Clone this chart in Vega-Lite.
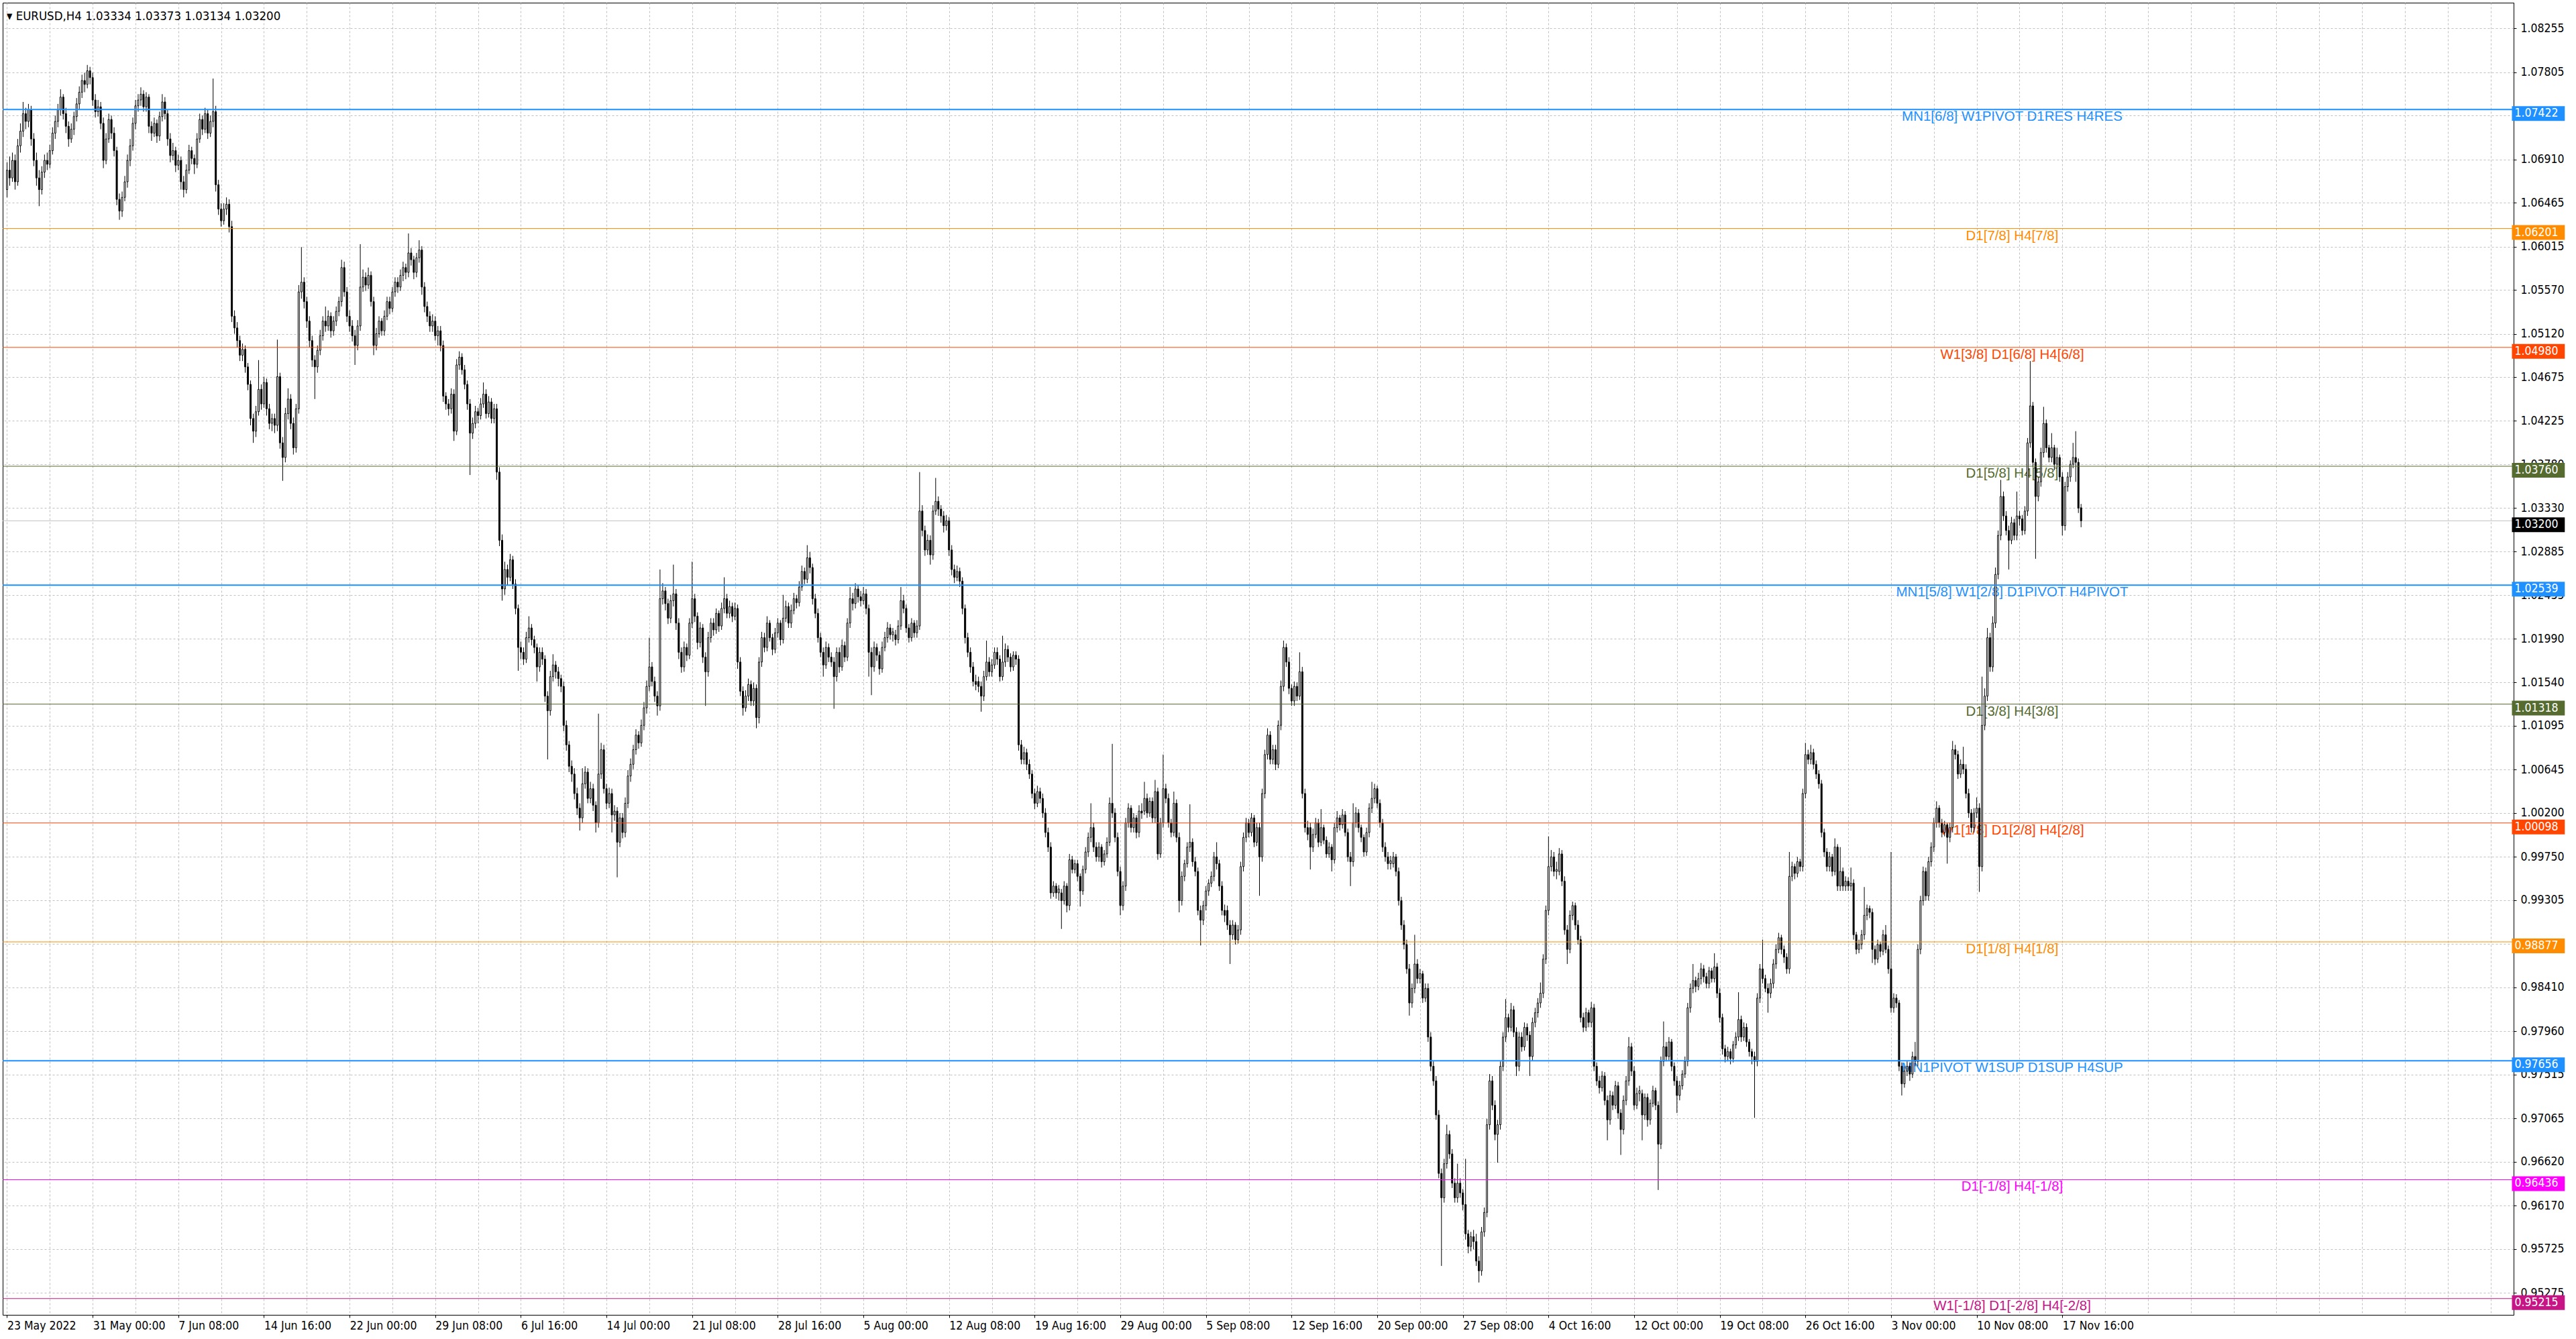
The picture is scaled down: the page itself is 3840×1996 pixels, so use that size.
{
"$schema": "https://vega.github.io/schema/vega-lite/v6.json",
"width": 3743, "height": 1956,
"autosize": {"type": "none"},
"padding": {"left": 4, "top": 4, "right": 93, "bottom": 36},
"background": "white",
"title": {"text": "▾  EURUSD,H4  1.03334 1.03373 1.03134 1.03200", "anchor": "start", "frame": "group", "orient": "top", "offset": -24, "dx": 6, "dy": 20, "baseline": "alphabetic", "font": "DejaVu Sans Condensed, DejaVu Sans", "fontSize": 18.5, "fontWeight": "normal", "color": "black"},
"config": {"view": {"stroke": "black", "strokeWidth": 1}},
"datasets": {
"levels": [
{"p":1.07422,"name":"MN1[6/8] W1PIVOT D1RES H4RES","lab":"1.07422","grp":"pivot"},
{"p":1.06201,"name":"D1[7/8] H4[7/8]","lab":"1.06201","grp":"o71"},
{"p":1.04980,"name":"W1[3/8] D1[6/8] H4[6/8]","lab":"1.04980","grp":"o62"},
{"p":1.03760,"name":"D1[5/8] H4[5/8]","lab":"1.03760","grp":"o53"},
{"p":1.03200,"name":"","lab":"1.03200","grp":"bid"},
{"p":1.02539,"name":"MN1[5/8] W1[2/8] D1PIVOT H4PIVOT","lab":"1.02539","grp":"pivot"},
{"p":1.01318,"name":"D1[3/8] H4[3/8]","lab":"1.01318","grp":"o53"},
{"p":1.00098,"name":"W1[1/8] D1[2/8] H4[2/8]","lab":"1.00098","grp":"o62"},
{"p":0.98877,"name":"D1[1/8] H4[1/8]","lab":"0.98877","grp":"o71"},
{"p":0.97656,"name":"MN1PIVOT W1SUP D1SUP H4SUP","lab":"0.97656","grp":"pivot"},
{"p":0.96436,"name":"D1[-1/8] H4[-1/8]","lab":"0.96436","grp":"m1"},
{"p":0.95215,"name":"W1[-1/8] D1[-2/8] H4[-2/8]","lab":"0.95215","grp":"m2"}
],
"bars": [
{"i":0,"o":1.0660,"h":1.0688,"l":1.0652,"c":1.0680},
{"i":1,"o":1.0680,"h":1.0694,"l":1.0664,"c":1.0672},
{"i":2,"o":1.0672,"h":1.0698,"l":1.0668,"c":1.0690},
{"i":3,"o":1.0690,"h":1.0696,"l":1.0660,"c":1.0668},
{"i":4,"o":1.0668,"h":1.0712,"l":1.0664,"c":1.0705},
{"i":5,"o":1.0705,"h":1.0728,"l":1.0698,"c":1.0720},
{"i":6,"o":1.0720,"h":1.0750,"l":1.0714,"c":1.0738},
{"i":7,"o":1.0738,"h":1.0744,"l":1.0722,"c":1.0730},
{"i":8,"o":1.0730,"h":1.0748,"l":1.0724,"c":1.0742},
{"i":9,"o":1.0742,"h":1.0746,"l":1.0705,"c":1.0712},
{"i":10,"o":1.0712,"h":1.0718,"l":1.0684,"c":1.0690},
{"i":11,"o":1.0690,"h":1.0698,"l":1.0664,"c":1.0672},
{"i":12,"o":1.0672,"h":1.0680,"l":1.0643,"c":1.0660},
{"i":13,"o":1.0660,"h":1.0684,"l":1.0655,"c":1.0678},
{"i":14,"o":1.0678,"h":1.0696,"l":1.0672,"c":1.0690},
{"i":15,"o":1.0690,"h":1.0698,"l":1.0680,"c":1.0686},
{"i":16,"o":1.0686,"h":1.0706,"l":1.0682,"c":1.0700},
{"i":17,"o":1.0700,"h":1.0724,"l":1.0696,"c":1.0718},
{"i":18,"o":1.0718,"h":1.0736,"l":1.0712,"c":1.0730},
{"i":19,"o":1.0730,"h":1.0748,"l":1.0724,"c":1.0742},
{"i":20,"o":1.0742,"h":1.0763,"l":1.0736,"c":1.0755},
{"i":21,"o":1.0755,"h":1.0758,"l":1.0732,"c":1.0738},
{"i":22,"o":1.0738,"h":1.0744,"l":1.0718,"c":1.0725},
{"i":23,"o":1.0725,"h":1.0730,"l":1.0704,"c":1.0712},
{"i":24,"o":1.0712,"h":1.0728,"l":1.0708,"c":1.0722},
{"i":25,"o":1.0722,"h":1.0740,"l":1.0716,"c":1.0735},
{"i":26,"o":1.0735,"h":1.0754,"l":1.0730,"c":1.0748},
{"i":27,"o":1.0748,"h":1.0766,"l":1.0742,"c":1.0760},
{"i":28,"o":1.0760,"h":1.0778,"l":1.0754,"c":1.0772},
{"i":29,"o":1.0772,"h":1.0780,"l":1.0760,"c":1.0768},
{"i":30,"o":1.0768,"h":1.0788,"l":1.0764,"c":1.0782},
{"i":31,"o":1.0782,"h":1.0786,"l":1.0768,"c":1.0775},
{"i":32,"o":1.0775,"h":1.0780,"l":1.0746,"c":1.0752},
{"i":33,"o":1.0752,"h":1.0758,"l":1.0734,"c":1.0740},
{"i":34,"o":1.0740,"h":1.0752,"l":1.0735,"c":1.0745},
{"i":35,"o":1.0745,"h":1.0750,"l":1.0722,"c":1.0728},
{"i":36,"o":1.0728,"h":1.0734,"l":1.0682,"c":1.0690},
{"i":37,"o":1.0690,"h":1.0718,"l":1.0686,"c":1.0712},
{"i":38,"o":1.0712,"h":1.0738,"l":1.0708,"c":1.0732},
{"i":39,"o":1.0732,"h":1.0736,"l":1.0712,"c":1.0718},
{"i":40,"o":1.0718,"h":1.0724,"l":1.0694,"c":1.0700},
{"i":41,"o":1.0700,"h":1.0704,"l":1.0644,"c":1.0650},
{"i":42,"o":1.0650,"h":1.0656,"l":1.0629,"c":1.0638},
{"i":43,"o":1.0638,"h":1.0658,"l":1.0632,"c":1.0652},
{"i":44,"o":1.0652,"h":1.0674,"l":1.0648,"c":1.0668},
{"i":45,"o":1.0668,"h":1.0696,"l":1.0662,"c":1.0690},
{"i":46,"o":1.0690,"h":1.0712,"l":1.0684,"c":1.0705},
{"i":47,"o":1.0705,"h":1.0734,"l":1.0700,"c":1.0728},
{"i":48,"o":1.0728,"h":1.0752,"l":1.0722,"c":1.0746},
{"i":49,"o":1.0746,"h":1.0758,"l":1.0740,"c":1.0752},
{"i":50,"o":1.0752,"h":1.0765,"l":1.0746,"c":1.0758},
{"i":51,"o":1.0758,"h":1.0762,"l":1.0740,"c":1.0745},
{"i":52,"o":1.0745,"h":1.0760,"l":1.0740,"c":1.0755},
{"i":53,"o":1.0755,"h":1.0758,"l":1.0718,"c":1.0725},
{"i":54,"o":1.0725,"h":1.0730,"l":1.0710,"c":1.0718},
{"i":55,"o":1.0718,"h":1.0734,"l":1.0714,"c":1.0728},
{"i":56,"o":1.0728,"h":1.0732,"l":1.0708,"c":1.0715},
{"i":57,"o":1.0715,"h":1.0740,"l":1.0710,"c":1.0735},
{"i":58,"o":1.0735,"h":1.0758,"l":1.0730,"c":1.0750},
{"i":59,"o":1.0750,"h":1.0755,"l":1.0732,"c":1.0738},
{"i":60,"o":1.0738,"h":1.0742,"l":1.0705,"c":1.0712},
{"i":61,"o":1.0712,"h":1.0718,"l":1.0688,"c":1.0695},
{"i":62,"o":1.0695,"h":1.0708,"l":1.0690,"c":1.0700},
{"i":63,"o":1.0700,"h":1.0704,"l":1.0678,"c":1.0685},
{"i":64,"o":1.0685,"h":1.0696,"l":1.0680,"c":1.0690},
{"i":65,"o":1.0690,"h":1.0694,"l":1.0660,"c":1.0668},
{"i":66,"o":1.0668,"h":1.0674,"l":1.0652,"c":1.0660},
{"i":67,"o":1.0660,"h":1.0686,"l":1.0656,"c":1.0680},
{"i":68,"o":1.0680,"h":1.0706,"l":1.0676,"c":1.0700},
{"i":69,"o":1.0700,"h":1.0704,"l":1.0686,"c":1.0692},
{"i":70,"o":1.0692,"h":1.0696,"l":1.0676,"c":1.0686},
{"i":71,"o":1.0686,"h":1.0718,"l":1.0682,"c":1.0712},
{"i":72,"o":1.0712,"h":1.0738,"l":1.0708,"c":1.0732},
{"i":73,"o":1.0732,"h":1.0736,"l":1.0716,"c":1.0722},
{"i":74,"o":1.0722,"h":1.0744,"l":1.0718,"c":1.0738},
{"i":75,"o":1.0738,"h":1.0742,"l":1.0712,"c":1.0718},
{"i":76,"o":1.0718,"h":1.0736,"l":1.0714,"c":1.0730},
{"i":77,"o":1.0730,"h":1.0774,"l":1.0724,"c":1.0740},
{"i":78,"o":1.0740,"h":1.0746,"l":1.0658,"c":1.0665},
{"i":79,"o":1.0665,"h":1.0670,"l":1.0634,"c":1.0640},
{"i":80,"o":1.0640,"h":1.0646,"l":1.0622,"c":1.0628},
{"i":81,"o":1.0628,"h":1.0646,"l":1.0624,"c":1.0640},
{"i":82,"o":1.0640,"h":1.0652,"l":1.0634,"c":1.0645},
{"i":83,"o":1.0645,"h":1.0650,"l":1.0616,"c":1.0622},
{"i":84,"o":1.0622,"h":1.0628,"l":1.0524,"c":1.0530},
{"i":85,"o":1.0530,"h":1.0536,"l":1.0512,"c":1.0518},
{"i":86,"o":1.0518,"h":1.0524,"l":1.0498,"c":1.0505},
{"i":87,"o":1.0505,"h":1.0510,"l":1.0484,"c":1.0490},
{"i":88,"o":1.0490,"h":1.0502,"l":1.0484,"c":1.0496},
{"i":89,"o":1.0496,"h":1.0500,"l":1.0472,"c":1.0478},
{"i":90,"o":1.0478,"h":1.0482,"l":1.0454,"c":1.0460},
{"i":91,"o":1.0460,"h":1.0464,"l":1.0418,"c":1.0425},
{"i":92,"o":1.0425,"h":1.0430,"l":1.0400,"c":1.0412},
{"i":93,"o":1.0412,"h":1.0438,"l":1.0406,"c":1.0432},
{"i":94,"o":1.0432,"h":1.0485,"l":1.0428,"c":1.0455},
{"i":95,"o":1.0455,"h":1.0460,"l":1.0434,"c":1.0440},
{"i":96,"o":1.0440,"h":1.0468,"l":1.0436,"c":1.0462},
{"i":97,"o":1.0462,"h":1.0466,"l":1.0428,"c":1.0435},
{"i":98,"o":1.0435,"h":1.0440,"l":1.0414,"c":1.0420},
{"i":99,"o":1.0420,"h":1.0430,"l":1.0412,"c":1.0425},
{"i":100,"o":1.0425,"h":1.0430,"l":1.0410,"c":1.0418},
{"i":101,"o":1.0418,"h":1.0506,"l":1.0412,"c":1.0468},
{"i":102,"o":1.0468,"h":1.0472,"l":1.0394,"c":1.0400},
{"i":103,"o":1.0400,"h":1.0406,"l":1.0361,"c":1.0385},
{"i":104,"o":1.0385,"h":1.0436,"l":1.0380,"c":1.0430},
{"i":105,"o":1.0430,"h":1.0456,"l":1.0424,"c":1.0445},
{"i":106,"o":1.0445,"h":1.0450,"l":1.0414,"c":1.0420},
{"i":107,"o":1.0420,"h":1.0426,"l":1.0388,"c":1.0395},
{"i":108,"o":1.0395,"h":1.0440,"l":1.0390,"c":1.0435},
{"i":109,"o":1.0435,"h":1.0562,"l":1.0430,"c":1.0555},
{"i":110,"o":1.0555,"h":1.0601,"l":1.0548,"c":1.0565},
{"i":111,"o":1.0565,"h":1.0570,"l":1.0538,"c":1.0545},
{"i":112,"o":1.0545,"h":1.0550,"l":1.0518,"c":1.0525},
{"i":113,"o":1.0525,"h":1.0530,"l":1.0498,"c":1.0505},
{"i":114,"o":1.0505,"h":1.0510,"l":1.0478,"c":1.0485},
{"i":115,"o":1.0485,"h":1.0490,"l":1.0445,"c":1.0478},
{"i":116,"o":1.0478,"h":1.0500,"l":1.0472,"c":1.0495},
{"i":117,"o":1.0495,"h":1.0516,"l":1.0490,"c":1.0510},
{"i":118,"o":1.0510,"h":1.0530,"l":1.0505,"c":1.0525},
{"i":119,"o":1.0525,"h":1.0540,"l":1.0514,"c":1.0520},
{"i":120,"o":1.0520,"h":1.0536,"l":1.0515,"c":1.0530},
{"i":121,"o":1.0530,"h":1.0534,"l":1.0508,"c":1.0515},
{"i":122,"o":1.0515,"h":1.0530,"l":1.0510,"c":1.0525},
{"i":123,"o":1.0525,"h":1.0540,"l":1.0520,"c":1.0535},
{"i":124,"o":1.0535,"h":1.0550,"l":1.0530,"c":1.0545},
{"i":125,"o":1.0545,"h":1.0588,"l":1.0540,"c":1.0580},
{"i":126,"o":1.0580,"h":1.0586,"l":1.0550,"c":1.0555},
{"i":127,"o":1.0555,"h":1.0560,"l":1.0524,"c":1.0530},
{"i":128,"o":1.0530,"h":1.0536,"l":1.0514,"c":1.0520},
{"i":129,"o":1.0520,"h":1.0526,"l":1.0504,"c":1.0510},
{"i":130,"o":1.0510,"h":1.0516,"l":1.0480,"c":1.0500},
{"i":131,"o":1.0500,"h":1.0526,"l":1.0495,"c":1.0520},
{"i":132,"o":1.0520,"h":1.0604,"l":1.0515,"c":1.0560},
{"i":133,"o":1.0560,"h":1.0578,"l":1.0555,"c":1.0570},
{"i":134,"o":1.0570,"h":1.0575,"l":1.0556,"c":1.0562},
{"i":135,"o":1.0562,"h":1.0580,"l":1.0558,"c":1.0572},
{"i":136,"o":1.0572,"h":1.0576,"l":1.0540,"c":1.0545},
{"i":137,"o":1.0545,"h":1.0550,"l":1.0490,"c":1.0500},
{"i":138,"o":1.0500,"h":1.0518,"l":1.0495,"c":1.0512},
{"i":139,"o":1.0512,"h":1.0530,"l":1.0508,"c":1.0525},
{"i":140,"o":1.0525,"h":1.0528,"l":1.0510,"c":1.0515},
{"i":141,"o":1.0515,"h":1.0536,"l":1.0510,"c":1.0530},
{"i":142,"o":1.0530,"h":1.0550,"l":1.0526,"c":1.0545},
{"i":143,"o":1.0545,"h":1.0550,"l":1.0532,"c":1.0538},
{"i":144,"o":1.0538,"h":1.0560,"l":1.0534,"c":1.0555},
{"i":145,"o":1.0555,"h":1.0570,"l":1.0550,"c":1.0565},
{"i":146,"o":1.0565,"h":1.0570,"l":1.0554,"c":1.0560},
{"i":147,"o":1.0560,"h":1.0578,"l":1.0556,"c":1.0572},
{"i":148,"o":1.0572,"h":1.0586,"l":1.0566,"c":1.0580},
{"i":149,"o":1.0580,"h":1.0584,"l":1.0568,"c":1.0575},
{"i":150,"o":1.0575,"h":1.0615,"l":1.0570,"c":1.0595},
{"i":151,"o":1.0595,"h":1.0600,"l":1.0582,"c":1.0588},
{"i":152,"o":1.0588,"h":1.0592,"l":1.0568,"c":1.0575},
{"i":153,"o":1.0575,"h":1.0595,"l":1.0570,"c":1.0590},
{"i":154,"o":1.0590,"h":1.0608,"l":1.0585,"c":1.0598},
{"i":155,"o":1.0598,"h":1.0602,"l":1.0552,"c":1.0560},
{"i":156,"o":1.0560,"h":1.0565,"l":1.0534,"c":1.0540},
{"i":157,"o":1.0540,"h":1.0545,"l":1.0524,"c":1.0530},
{"i":158,"o":1.0530,"h":1.0535,"l":1.0514,"c":1.0520},
{"i":159,"o":1.0520,"h":1.0532,"l":1.0514,"c":1.0525},
{"i":160,"o":1.0525,"h":1.0530,"l":1.0505,"c":1.0510},
{"i":161,"o":1.0510,"h":1.0520,"l":1.0500,"c":1.0515},
{"i":162,"o":1.0515,"h":1.0520,"l":1.0494,"c":1.0500},
{"i":163,"o":1.0500,"h":1.0505,"l":1.0442,"c":1.0448},
{"i":164,"o":1.0448,"h":1.0452,"l":1.0434,"c":1.0440},
{"i":165,"o":1.0440,"h":1.0445,"l":1.0428,"c":1.0435},
{"i":166,"o":1.0435,"h":1.0456,"l":1.0430,"c":1.0450},
{"i":167,"o":1.0450,"h":1.0455,"l":1.0402,"c":1.0412},
{"i":168,"o":1.0412,"h":1.0486,"l":1.0408,"c":1.0480},
{"i":169,"o":1.0480,"h":1.0494,"l":1.0475,"c":1.0488},
{"i":170,"o":1.0488,"h":1.0492,"l":1.0470,"c":1.0475},
{"i":171,"o":1.0475,"h":1.0480,"l":1.0455,"c":1.0460},
{"i":172,"o":1.0460,"h":1.0464,"l":1.0434,"c":1.0440},
{"i":173,"o":1.0440,"h":1.0445,"l":1.0367,"c":1.0410},
{"i":174,"o":1.0410,"h":1.0426,"l":1.0404,"c":1.0420},
{"i":175,"o":1.0420,"h":1.0438,"l":1.0415,"c":1.0432},
{"i":176,"o":1.0432,"h":1.0436,"l":1.0420,"c":1.0428},
{"i":177,"o":1.0428,"h":1.0446,"l":1.0424,"c":1.0440},
{"i":178,"o":1.0440,"h":1.0462,"l":1.0436,"c":1.0450},
{"i":179,"o":1.0450,"h":1.0455,"l":1.0425,"c":1.0430},
{"i":180,"o":1.0430,"h":1.0448,"l":1.0426,"c":1.0442},
{"i":181,"o":1.0442,"h":1.0446,"l":1.0420,"c":1.0425},
{"i":182,"o":1.0425,"h":1.0440,"l":1.0420,"c":1.0435},
{"i":183,"o":1.0435,"h":1.0440,"l":1.0362,"c":1.0370},
{"i":184,"o":1.0370,"h":1.0375,"l":1.0294,"c":1.0300},
{"i":185,"o":1.0300,"h":1.0306,"l":1.0238,"c":1.0250},
{"i":186,"o":1.0250,"h":1.0278,"l":1.0244,"c":1.0270},
{"i":187,"o":1.0270,"h":1.0275,"l":1.0254,"c":1.0262},
{"i":188,"o":1.0262,"h":1.0286,"l":1.0258,"c":1.0280},
{"i":189,"o":1.0280,"h":1.0284,"l":1.0250,"c":1.0255},
{"i":190,"o":1.0255,"h":1.0260,"l":1.0224,"c":1.0230},
{"i":191,"o":1.0230,"h":1.0234,"l":1.0166,"c":1.0190},
{"i":192,"o":1.0190,"h":1.0196,"l":1.0178,"c":1.0185},
{"i":193,"o":1.0185,"h":1.0190,"l":1.0172,"c":1.0178},
{"i":194,"o":1.0178,"h":1.0206,"l":1.0174,"c":1.0200},
{"i":195,"o":1.0200,"h":1.0222,"l":1.0195,"c":1.0210},
{"i":196,"o":1.0210,"h":1.0214,"l":1.0192,"c":1.0198},
{"i":197,"o":1.0198,"h":1.0202,"l":1.0184,"c":1.0190},
{"i":198,"o":1.0190,"h":1.0194,"l":1.0155,"c":1.0170},
{"i":199,"o":1.0170,"h":1.0190,"l":1.0165,"c":1.0185},
{"i":200,"o":1.0185,"h":1.0190,"l":1.0172,"c":1.0178},
{"i":201,"o":1.0178,"h":1.0182,"l":1.0134,"c":1.0140},
{"i":202,"o":1.0140,"h":1.0145,"l":1.0075,"c":1.0125},
{"i":203,"o":1.0125,"h":1.0166,"l":1.0120,"c":1.0160},
{"i":204,"o":1.0160,"h":1.0183,"l":1.0155,"c":1.0172},
{"i":205,"o":1.0172,"h":1.0176,"l":1.0158,"c":1.0165},
{"i":206,"o":1.0165,"h":1.0170,"l":1.0150,"c":1.0158},
{"i":207,"o":1.0158,"h":1.0162,"l":1.0144,"c":1.0150},
{"i":208,"o":1.0150,"h":1.0155,"l":1.0104,"c":1.0110},
{"i":209,"o":1.0110,"h":1.0115,"l":1.0084,"c":1.0090},
{"i":210,"o":1.0090,"h":1.0094,"l":1.0062,"c":1.0068},
{"i":211,"o":1.0068,"h":1.0074,"l":1.0052,"c":1.0060},
{"i":212,"o":1.0060,"h":1.0066,"l":1.0034,"c":1.0040},
{"i":213,"o":1.0040,"h":1.0046,"l":1.0018,"c":1.0025},
{"i":214,"o":1.0025,"h":1.0030,"l":1.0002,"c":1.0015},
{"i":215,"o":1.0015,"h":1.0066,"l":1.0010,"c":1.0050},
{"i":216,"o":1.0050,"h":1.0068,"l":1.0045,"c":1.0062},
{"i":217,"o":1.0062,"h":1.0066,"l":1.0030,"c":1.0035},
{"i":218,"o":1.0035,"h":1.0052,"l":1.0030,"c":1.0045},
{"i":219,"o":1.0045,"h":1.0050,"l":1.0022,"c":1.0028},
{"i":220,"o":1.0028,"h":1.0032,"l":1.0000,"c":1.0010},
{"i":221,"o":1.0010,"h":1.0122,"l":1.0005,"c":1.0060},
{"i":222,"o":1.0060,"h":1.0092,"l":1.0055,"c":1.0085},
{"i":223,"o":1.0085,"h":1.0090,"l":1.0040,"c":1.0045},
{"i":224,"o":1.0045,"h":1.0050,"l":1.0024,"c":1.0030},
{"i":225,"o":1.0030,"h":1.0046,"l":1.0025,"c":1.0040},
{"i":226,"o":1.0040,"h":1.0045,"l":1.0000,"c":1.0018},
{"i":227,"o":1.0018,"h":1.0028,"l":1.0012,"c":1.0022},
{"i":228,"o":1.0022,"h":1.0026,"l":0.9954,"c":0.9990},
{"i":229,"o":0.9990,"h":1.0020,"l":0.9985,"c":1.0015},
{"i":230,"o":1.0015,"h":1.0020,"l":0.9994,"c":1.0000},
{"i":231,"o":1.0000,"h":1.0036,"l":0.9995,"c":1.0030},
{"i":232,"o":1.0030,"h":1.0064,"l":1.0025,"c":1.0058},
{"i":233,"o":1.0058,"h":1.0076,"l":1.0052,"c":1.0070},
{"i":234,"o":1.0070,"h":1.0090,"l":1.0065,"c":1.0085},
{"i":235,"o":1.0085,"h":1.0106,"l":1.0080,"c":1.0100},
{"i":236,"o":1.0100,"h":1.0104,"l":1.0086,"c":1.0092},
{"i":237,"o":1.0092,"h":1.0116,"l":1.0088,"c":1.0110},
{"i":238,"o":1.0110,"h":1.0134,"l":1.0105,"c":1.0128},
{"i":239,"o":1.0128,"h":1.0156,"l":1.0122,"c":1.0150},
{"i":240,"o":1.0150,"h":1.0200,"l":1.0145,"c":1.0170},
{"i":241,"o":1.0170,"h":1.0175,"l":1.0150,"c":1.0155},
{"i":242,"o":1.0155,"h":1.0160,"l":1.0134,"c":1.0140},
{"i":243,"o":1.0140,"h":1.0145,"l":1.0120,"c":1.0130},
{"i":244,"o":1.0130,"h":1.0270,"l":1.0125,"c":1.0240},
{"i":245,"o":1.0240,"h":1.0256,"l":1.0234,"c":1.0248},
{"i":246,"o":1.0248,"h":1.0252,"l":1.0228,"c":1.0235},
{"i":247,"o":1.0235,"h":1.0240,"l":1.0214,"c":1.0220},
{"i":248,"o":1.0220,"h":1.0244,"l":1.0215,"c":1.0238},
{"i":249,"o":1.0238,"h":1.0275,"l":1.0232,"c":1.0245},
{"i":250,"o":1.0245,"h":1.0250,"l":1.0208,"c":1.0215},
{"i":251,"o":1.0215,"h":1.0220,"l":1.0178,"c":1.0185},
{"i":252,"o":1.0185,"h":1.0190,"l":1.0164,"c":1.0170},
{"i":253,"o":1.0170,"h":1.0196,"l":1.0165,"c":1.0190},
{"i":254,"o":1.0190,"h":1.0194,"l":1.0176,"c":1.0182},
{"i":255,"o":1.0182,"h":1.0220,"l":1.0178,"c":1.0215},
{"i":256,"o":1.0215,"h":1.0278,"l":1.0210,"c":1.0240},
{"i":257,"o":1.0240,"h":1.0245,"l":1.0216,"c":1.0222},
{"i":258,"o":1.0222,"h":1.0226,"l":1.0188,"c":1.0195},
{"i":259,"o":1.0195,"h":1.0216,"l":1.0190,"c":1.0210},
{"i":260,"o":1.0210,"h":1.0214,"l":1.0174,"c":1.0180},
{"i":261,"o":1.0180,"h":1.0185,"l":1.0130,"c":1.0165},
{"i":262,"o":1.0165,"h":1.0206,"l":1.0160,"c":1.0200},
{"i":263,"o":1.0200,"h":1.0220,"l":1.0195,"c":1.0215},
{"i":264,"o":1.0215,"h":1.0220,"l":1.0202,"c":1.0208},
{"i":265,"o":1.0208,"h":1.0230,"l":1.0204,"c":1.0225},
{"i":266,"o":1.0225,"h":1.0228,"l":1.0206,"c":1.0212},
{"i":267,"o":1.0212,"h":1.0236,"l":1.0208,"c":1.0230},
{"i":268,"o":1.0230,"h":1.0262,"l":1.0225,"c":1.0240},
{"i":269,"o":1.0240,"h":1.0245,"l":1.0220,"c":1.0225},
{"i":270,"o":1.0225,"h":1.0238,"l":1.0220,"c":1.0232},
{"i":271,"o":1.0232,"h":1.0236,"l":1.0216,"c":1.0222},
{"i":272,"o":1.0222,"h":1.0236,"l":1.0218,"c":1.0230},
{"i":273,"o":1.0230,"h":1.0234,"l":1.0168,"c":1.0175},
{"i":274,"o":1.0175,"h":1.0180,"l":1.0140,"c":1.0145},
{"i":275,"o":1.0145,"h":1.0150,"l":1.0120,"c":1.0128},
{"i":276,"o":1.0128,"h":1.0146,"l":1.0124,"c":1.0140},
{"i":277,"o":1.0140,"h":1.0158,"l":1.0135,"c":1.0152},
{"i":278,"o":1.0152,"h":1.0156,"l":1.0130,"c":1.0135},
{"i":279,"o":1.0135,"h":1.0154,"l":1.0130,"c":1.0148},
{"i":280,"o":1.0148,"h":1.0152,"l":1.0107,"c":1.0118},
{"i":281,"o":1.0118,"h":1.0180,"l":1.0112,"c":1.0175},
{"i":282,"o":1.0175,"h":1.0206,"l":1.0170,"c":1.0200},
{"i":283,"o":1.0200,"h":1.0205,"l":1.0185,"c":1.0190},
{"i":284,"o":1.0190,"h":1.0222,"l":1.0186,"c":1.0215},
{"i":285,"o":1.0215,"h":1.0218,"l":1.0196,"c":1.0200},
{"i":286,"o":1.0200,"h":1.0204,"l":1.0182,"c":1.0188},
{"i":287,"o":1.0188,"h":1.0210,"l":1.0184,"c":1.0205},
{"i":288,"o":1.0205,"h":1.0220,"l":1.0200,"c":1.0215},
{"i":289,"o":1.0215,"h":1.0218,"l":1.0192,"c":1.0198},
{"i":290,"o":1.0198,"h":1.0244,"l":1.0194,"c":1.0220},
{"i":291,"o":1.0220,"h":1.0238,"l":1.0216,"c":1.0232},
{"i":292,"o":1.0232,"h":1.0236,"l":1.0210,"c":1.0215},
{"i":293,"o":1.0215,"h":1.0234,"l":1.0210,"c":1.0228},
{"i":294,"o":1.0228,"h":1.0246,"l":1.0224,"c":1.0240},
{"i":295,"o":1.0240,"h":1.0244,"l":1.0230,"c":1.0236},
{"i":296,"o":1.0236,"h":1.0258,"l":1.0232,"c":1.0252},
{"i":297,"o":1.0252,"h":1.0274,"l":1.0248,"c":1.0268},
{"i":298,"o":1.0268,"h":1.0272,"l":1.0255,"c":1.0260},
{"i":299,"o":1.0260,"h":1.0295,"l":1.0256,"c":1.0282},
{"i":300,"o":1.0282,"h":1.0288,"l":1.0266,"c":1.0272},
{"i":301,"o":1.0272,"h":1.0276,"l":1.0234,"c":1.0240},
{"i":302,"o":1.0240,"h":1.0245,"l":1.0220,"c":1.0225},
{"i":303,"o":1.0225,"h":1.0230,"l":1.0195,"c":1.0200},
{"i":304,"o":1.0200,"h":1.0205,"l":1.0180,"c":1.0185},
{"i":305,"o":1.0185,"h":1.0190,"l":1.0160,"c":1.0172},
{"i":306,"o":1.0172,"h":1.0196,"l":1.0168,"c":1.0190},
{"i":307,"o":1.0190,"h":1.0194,"l":1.0175,"c":1.0180},
{"i":308,"o":1.0180,"h":1.0185,"l":1.0170,"c":1.0175},
{"i":309,"o":1.0175,"h":1.0180,"l":1.0127,"c":1.0160},
{"i":310,"o":1.0160,"h":1.0190,"l":1.0155,"c":1.0185},
{"i":311,"o":1.0185,"h":1.0190,"l":1.0164,"c":1.0170},
{"i":312,"o":1.0170,"h":1.0198,"l":1.0166,"c":1.0192},
{"i":313,"o":1.0192,"h":1.0196,"l":1.0175,"c":1.0180},
{"i":314,"o":1.0180,"h":1.0220,"l":1.0176,"c":1.0215},
{"i":315,"o":1.0215,"h":1.0252,"l":1.0210,"c":1.0240},
{"i":316,"o":1.0240,"h":1.0246,"l":1.0228,"c":1.0235},
{"i":317,"o":1.0235,"h":1.0256,"l":1.0230,"c":1.0250},
{"i":318,"o":1.0250,"h":1.0254,"l":1.0236,"c":1.0242},
{"i":319,"o":1.0242,"h":1.0248,"l":1.0232,"c":1.0238},
{"i":320,"o":1.0238,"h":1.0252,"l":1.0234,"c":1.0245},
{"i":321,"o":1.0245,"h":1.0250,"l":1.0224,"c":1.0230},
{"i":322,"o":1.0230,"h":1.0234,"l":1.0160,"c":1.0185},
{"i":323,"o":1.0185,"h":1.0190,"l":1.0141,"c":1.0170},
{"i":324,"o":1.0170,"h":1.0196,"l":1.0165,"c":1.0190},
{"i":325,"o":1.0190,"h":1.0194,"l":1.0176,"c":1.0182},
{"i":326,"o":1.0182,"h":1.0186,"l":1.0162,"c":1.0168},
{"i":327,"o":1.0168,"h":1.0196,"l":1.0164,"c":1.0190},
{"i":328,"o":1.0190,"h":1.0206,"l":1.0186,"c":1.0200},
{"i":329,"o":1.0200,"h":1.0216,"l":1.0195,"c":1.0210},
{"i":330,"o":1.0210,"h":1.0214,"l":1.0198,"c":1.0203},
{"i":331,"o":1.0203,"h":1.0210,"l":1.0196,"c":1.0206},
{"i":332,"o":1.0203,"h":1.0208,"l":1.0192,"c":1.0198},
{"i":333,"o":1.0198,"h":1.0218,"l":1.0194,"c":1.0212},
{"i":334,"o":1.0212,"h":1.0252,"l":1.0208,"c":1.0238},
{"i":335,"o":1.0238,"h":1.0244,"l":1.0225,"c":1.0230},
{"i":336,"o":1.0230,"h":1.0234,"l":1.0205,"c":1.0210},
{"i":337,"o":1.0210,"h":1.0214,"l":1.0195,"c":1.0200},
{"i":338,"o":1.0200,"h":1.0220,"l":1.0196,"c":1.0215},
{"i":339,"o":1.0215,"h":1.0218,"l":1.0200,"c":1.0205},
{"i":340,"o":1.0205,"h":1.0218,"l":1.0200,"c":1.0212},
{"i":341,"o":1.0212,"h":1.0370,"l":1.0208,"c":1.0330},
{"i":342,"o":1.0330,"h":1.0336,"l":1.0304,"c":1.0310},
{"i":343,"o":1.0310,"h":1.0315,"l":1.0284,"c":1.0290},
{"i":344,"o":1.0290,"h":1.0306,"l":1.0285,"c":1.0300},
{"i":345,"o":1.0300,"h":1.0305,"l":1.0275,"c":1.0285},
{"i":346,"o":1.0285,"h":1.0336,"l":1.0280,"c":1.0330},
{"i":347,"o":1.0330,"h":1.0364,"l":1.0326,"c":1.0340},
{"i":348,"o":1.0340,"h":1.0345,"l":1.0325,"c":1.0332},
{"i":349,"o":1.0332,"h":1.0336,"l":1.0318,"c":1.0325},
{"i":350,"o":1.0325,"h":1.0330,"l":1.0308,"c":1.0315},
{"i":351,"o":1.0315,"h":1.0326,"l":1.0310,"c":1.0320},
{"i":352,"o":1.0320,"h":1.0324,"l":1.0284,"c":1.0290},
{"i":353,"o":1.0290,"h":1.0295,"l":1.0264,"c":1.0270},
{"i":354,"o":1.0270,"h":1.0275,"l":1.0256,"c":1.0262},
{"i":355,"o":1.0262,"h":1.0274,"l":1.0258,"c":1.0268},
{"i":356,"o":1.0268,"h":1.0272,"l":1.0252,"c":1.0258},
{"i":357,"o":1.0258,"h":1.0262,"l":1.0224,"c":1.0230},
{"i":358,"o":1.0230,"h":1.0234,"l":1.0194,"c":1.0200},
{"i":359,"o":1.0200,"h":1.0205,"l":1.0180,"c":1.0185},
{"i":360,"o":1.0185,"h":1.0190,"l":1.0164,"c":1.0170},
{"i":361,"o":1.0170,"h":1.0175,"l":1.0150,"c":1.0155},
{"i":362,"o":1.0155,"h":1.0162,"l":1.0146,"c":1.0152},
{"i":363,"o":1.0155,"h":1.0160,"l":1.0144,"c":1.0150},
{"i":364,"o":1.0150,"h":1.0155,"l":1.0124,"c":1.0140},
{"i":365,"o":1.0140,"h":1.0166,"l":1.0135,"c":1.0160},
{"i":366,"o":1.0160,"h":1.0197,"l":1.0156,"c":1.0175},
{"i":367,"o":1.0175,"h":1.0180,"l":1.0160,"c":1.0165},
{"i":368,"o":1.0165,"h":1.0178,"l":1.0160,"c":1.0172},
{"i":369,"o":1.0172,"h":1.0190,"l":1.0168,"c":1.0185},
{"i":370,"o":1.0185,"h":1.0190,"l":1.0172,"c":1.0178},
{"i":371,"o":1.0178,"h":1.0182,"l":1.0155,"c":1.0160},
{"i":372,"o":1.0160,"h":1.0202,"l":1.0156,"c":1.0175},
{"i":373,"o":1.0175,"h":1.0194,"l":1.0170,"c":1.0188},
{"i":374,"o":1.0188,"h":1.0192,"l":1.0175,"c":1.0180},
{"i":375,"o":1.0180,"h":1.0184,"l":1.0165,"c":1.0170},
{"i":376,"o":1.0170,"h":1.0186,"l":1.0166,"c":1.0182},
{"i":377,"o":1.0182,"h":1.0186,"l":1.0172,"c":1.0178},
{"i":378,"o":1.0178,"h":1.0182,"l":1.0084,"c":1.0090},
{"i":379,"o":1.0090,"h":1.0095,"l":1.0070,"c":1.0075},
{"i":380,"o":1.0075,"h":1.0088,"l":1.0070,"c":1.0082},
{"i":381,"o":1.0082,"h":1.0086,"l":1.0064,"c":1.0070},
{"i":382,"o":1.0070,"h":1.0075,"l":1.0055,"c":1.0060},
{"i":383,"o":1.0060,"h":1.0064,"l":1.0035,"c":1.0040},
{"i":384,"o":1.0040,"h":1.0045,"l":1.0024,"c":1.0030},
{"i":385,"o":1.0030,"h":1.0048,"l":1.0026,"c":1.0042},
{"i":386,"o":1.0042,"h":1.0046,"l":1.0030,"c":1.0035},
{"i":387,"o":1.0035,"h":1.0040,"l":1.0015,"c":1.0020},
{"i":388,"o":1.0020,"h":1.0025,"l":0.9995,"c":1.0000},
{"i":389,"o":1.0000,"h":1.0005,"l":0.9980,"c":0.9985},
{"i":390,"o":0.9985,"h":0.9990,"l":0.9932,"c":0.9938},
{"i":391,"o":0.9938,"h":0.9950,"l":0.9934,"c":0.9945},
{"i":392,"o":0.9945,"h":0.9948,"l":0.9932,"c":0.9938},
{"i":393,"o":0.9938,"h":0.9946,"l":0.9930,"c":0.9942},
{"i":394,"o":0.9938,"h":0.9942,"l":0.9901,"c":0.9930},
{"i":395,"o":0.9930,"h":0.9950,"l":0.9926,"c":0.9945},
{"i":396,"o":0.9945,"h":0.9948,"l":0.9918,"c":0.9925},
{"i":397,"o":0.9925,"h":0.9978,"l":0.9920,"c":0.9972},
{"i":398,"o":0.9972,"h":0.9976,"l":0.9958,"c":0.9962},
{"i":399,"o":0.9962,"h":0.9972,"l":0.9958,"c":0.9968},
{"i":400,"o":0.9968,"h":0.9972,"l":0.9950,"c":0.9955},
{"i":401,"o":0.9955,"h":0.9958,"l":0.9924,"c":0.9940},
{"i":402,"o":0.9940,"h":0.9966,"l":0.9936,"c":0.9962},
{"i":403,"o":0.9962,"h":0.9985,"l":0.9958,"c":0.9980},
{"i":404,"o":0.9980,"h":1.0000,"l":0.9975,"c":0.9995},
{"i":405,"o":0.9995,"h":1.0030,"l":0.9990,"c":1.0005},
{"i":406,"o":1.0005,"h":1.0010,"l":0.9980,"c":0.9985},
{"i":407,"o":0.9985,"h":0.9990,"l":0.9970,"c":0.9975},
{"i":408,"o":0.9975,"h":0.9990,"l":0.9970,"c":0.9985},
{"i":409,"o":0.9985,"h":0.9988,"l":0.9964,"c":0.9970},
{"i":410,"o":0.9970,"h":0.9982,"l":0.9966,"c":0.9978},
{"i":411,"o":0.9978,"h":0.9995,"l":0.9974,"c":0.9990},
{"i":412,"o":0.9990,"h":1.0036,"l":0.9986,"c":1.0030},
{"i":413,"o":1.0030,"h":1.0091,"l":1.0015,"c":1.0020},
{"i":414,"o":1.0020,"h":1.0025,"l":0.9990,"c":0.9995},
{"i":415,"o":0.9995,"h":1.0000,"l":0.9955,"c":0.9960},
{"i":416,"o":0.9960,"h":0.9965,"l":0.9915,"c":0.9925},
{"i":417,"o":0.9925,"h":0.9950,"l":0.9920,"c":0.9945},
{"i":418,"o":0.9945,"h":1.0015,"l":0.9940,"c":1.0010},
{"i":419,"o":1.0010,"h":1.0030,"l":1.0005,"c":1.0025},
{"i":420,"o":1.0025,"h":1.0028,"l":1.0000,"c":1.0005},
{"i":421,"o":1.0005,"h":1.0020,"l":1.0000,"c":1.0015},
{"i":422,"o":1.0015,"h":1.0018,"l":0.9994,"c":1.0000},
{"i":423,"o":1.0000,"h":1.0028,"l":0.9995,"c":1.0022},
{"i":424,"o":1.0022,"h":1.0030,"l":1.0014,"c":1.0020},
{"i":425,"o":1.0022,"h":1.0052,"l":1.0018,"c":1.0035},
{"i":426,"o":1.0035,"h":1.0040,"l":1.0015,"c":1.0020},
{"i":427,"o":1.0020,"h":1.0036,"l":1.0016,"c":1.0032},
{"i":428,"o":1.0032,"h":1.0036,"l":1.0010,"c":1.0015},
{"i":429,"o":1.0015,"h":1.0054,"l":1.0010,"c":1.0042},
{"i":430,"o":1.0042,"h":1.0046,"l":0.9972,"c":0.9978},
{"i":431,"o":0.9978,"h":1.0015,"l":0.9974,"c":1.0010},
{"i":432,"o":1.0010,"h":1.0080,"l":1.0005,"c":1.0045},
{"i":433,"o":1.0045,"h":1.0050,"l":1.0030,"c":1.0035},
{"i":434,"o":1.0035,"h":1.0040,"l":1.0005,"c":1.0010},
{"i":435,"o":1.0010,"h":1.0014,"l":0.9995,"c":1.0000},
{"i":436,"o":1.0000,"h":1.0042,"l":0.9996,"c":1.0030},
{"i":437,"o":1.0030,"h":1.0034,"l":0.9990,"c":0.9995},
{"i":438,"o":0.9995,"h":1.0000,"l":0.9918,"c":0.9930},
{"i":439,"o":0.9930,"h":0.9960,"l":0.9925,"c":0.9955},
{"i":440,"o":0.9955,"h":0.9972,"l":0.9950,"c":0.9968},
{"i":441,"o":0.9968,"h":0.9990,"l":0.9964,"c":0.9985},
{"i":442,"o":0.9985,"h":1.0029,"l":0.9980,"c":0.9990},
{"i":443,"o":0.9990,"h":0.9994,"l":0.9965,"c":0.9970},
{"i":444,"o":0.9970,"h":0.9975,"l":0.9955,"c":0.9960},
{"i":445,"o":0.9960,"h":0.9964,"l":0.9915,"c":0.9920},
{"i":446,"o":0.9920,"h":0.9925,"l":0.9884,"c":0.9910},
{"i":447,"o":0.9910,"h":0.9930,"l":0.9905,"c":0.9925},
{"i":448,"o":0.9925,"h":0.9945,"l":0.9920,"c":0.9940},
{"i":449,"o":0.9940,"h":0.9952,"l":0.9935,"c":0.9948},
{"i":450,"o":0.9948,"h":0.9960,"l":0.9944,"c":0.9955},
{"i":451,"o":0.9955,"h":0.9980,"l":0.9950,"c":0.9975},
{"i":452,"o":0.9975,"h":0.9990,"l":0.9962,"c":0.9968},
{"i":453,"o":0.9968,"h":0.9972,"l":0.9940,"c":0.9945},
{"i":454,"o":0.9945,"h":0.9950,"l":0.9915,"c":0.9920},
{"i":455,"o":0.9920,"h":0.9926,"l":0.9908,"c":0.9915},
{"i":456,"o":0.9920,"h":0.9925,"l":0.9900,"c":0.9905},
{"i":457,"o":0.9905,"h":0.9910,"l":0.9865,"c":0.9895},
{"i":458,"o":0.9895,"h":0.9910,"l":0.9890,"c":0.9905},
{"i":459,"o":0.9905,"h":0.9908,"l":0.9885,"c":0.9890},
{"i":460,"o":0.9890,"h":0.9905,"l":0.9886,"c":0.9900},
{"i":461,"o":0.9900,"h":0.9970,"l":0.9895,"c":0.9965},
{"i":462,"o":0.9965,"h":1.0000,"l":0.9960,"c":0.9995},
{"i":463,"o":0.9995,"h":1.0015,"l":0.9990,"c":1.0010},
{"i":464,"o":1.0010,"h":1.0014,"l":0.9995,"c":1.0000},
{"i":465,"o":1.0000,"h":1.0020,"l":0.9996,"c":1.0015},
{"i":466,"o":1.0015,"h":1.0018,"l":0.9985,"c":0.9990},
{"i":467,"o":0.9990,"h":1.0010,"l":0.9986,"c":1.0005},
{"i":468,"o":1.0005,"h":1.0010,"l":0.9935,"c":0.9975},
{"i":469,"o":0.9975,"h":1.0045,"l":0.9970,"c":1.0040},
{"i":470,"o":1.0040,"h":1.0085,"l":1.0035,"c":1.0080},
{"i":471,"o":1.0080,"h":1.0107,"l":1.0075,"c":1.0100},
{"i":472,"o":1.0100,"h":1.0104,"l":1.0070,"c":1.0075},
{"i":473,"o":1.0075,"h":1.0090,"l":1.0070,"c":1.0085},
{"i":474,"o":1.0085,"h":1.0090,"l":1.0064,"c":1.0070},
{"i":475,"o":1.0070,"h":1.0115,"l":1.0066,"c":1.0110},
{"i":476,"o":1.0110,"h":1.0156,"l":1.0105,"c":1.0150},
{"i":477,"o":1.0150,"h":1.0197,"l":1.0145,"c":1.0190},
{"i":478,"o":1.0190,"h":1.0194,"l":1.0170,"c":1.0175},
{"i":479,"o":1.0175,"h":1.0180,"l":1.0142,"c":1.0148},
{"i":480,"o":1.0148,"h":1.0152,"l":1.0130,"c":1.0135},
{"i":481,"o":1.0135,"h":1.0155,"l":1.0130,"c":1.0150},
{"i":482,"o":1.0150,"h":1.0154,"l":1.0135,"c":1.0140},
{"i":483,"o":1.0140,"h":1.0185,"l":1.0136,"c":1.0165},
{"i":484,"o":1.0165,"h":1.0170,"l":1.0035,"c":1.0040},
{"i":485,"o":1.0040,"h":1.0045,"l":1.0000,"c":1.0005},
{"i":486,"o":1.0005,"h":1.0012,"l":0.9992,"c":0.9998},
{"i":487,"o":1.0005,"h":1.0010,"l":0.9962,"c":0.9985},
{"i":488,"o":0.9985,"h":1.0004,"l":0.9980,"c":0.9998},
{"i":489,"o":0.9998,"h":1.0015,"l":0.9994,"c":1.0010},
{"i":490,"o":1.0010,"h":1.0014,"l":0.9985,"c":0.9990},
{"i":491,"o":0.9990,"h":1.0024,"l":0.9986,"c":1.0005},
{"i":492,"o":1.0005,"h":1.0008,"l":0.9988,"c":0.9992},
{"i":493,"o":0.9992,"h":0.9996,"l":0.9974,"c":0.9978},
{"i":494,"o":0.9978,"h":0.9990,"l":0.9974,"c":0.9985},
{"i":495,"o":0.9985,"h":0.9988,"l":0.9960,"c":0.9972},
{"i":496,"o":0.9972,"h":1.0010,"l":0.9968,"c":1.0005},
{"i":497,"o":1.0005,"h":1.0022,"l":1.0000,"c":1.0015},
{"i":498,"o":1.0015,"h":1.0018,"l":1.0002,"c":1.0008},
{"i":499,"o":1.0008,"h":1.0024,"l":1.0004,"c":1.0018},
{"i":500,"o":1.0018,"h":1.0022,"l":0.9996,"c":1.0000},
{"i":501,"o":1.0000,"h":1.0004,"l":0.9970,"c":0.9975},
{"i":502,"o":0.9975,"h":0.9980,"l":0.9945,"c":0.9970},
{"i":503,"o":0.9970,"h":1.0030,"l":0.9965,"c":1.0010},
{"i":504,"o":1.0010,"h":1.0026,"l":1.0005,"c":1.0020},
{"i":505,"o":1.0020,"h":1.0024,"l":1.0000,"c":1.0005},
{"i":506,"o":1.0005,"h":1.0008,"l":0.9990,"c":0.9995},
{"i":507,"o":0.9995,"h":0.9998,"l":0.9975,"c":0.9980},
{"i":508,"o":0.9980,"h":1.0005,"l":0.9976,"c":1.0000},
{"i":509,"o":1.0000,"h":1.0030,"l":0.9995,"c":1.0025},
{"i":510,"o":1.0025,"h":1.0052,"l":1.0020,"c":1.0035},
{"i":511,"o":1.0035,"h":1.0050,"l":1.0030,"c":1.0045},
{"i":512,"o":1.0045,"h":1.0048,"l":1.0025,"c":1.0030},
{"i":513,"o":1.0030,"h":1.0034,"l":1.0005,"c":1.0010},
{"i":514,"o":1.0010,"h":1.0014,"l":0.9980,"c":0.9985},
{"i":515,"o":0.9985,"h":0.9990,"l":0.9970,"c":0.9975},
{"i":516,"o":0.9975,"h":0.9980,"l":0.9962,"c":0.9968},
{"i":517,"o":0.9968,"h":0.9976,"l":0.9962,"c":0.9971},
{"i":518,"o":0.9968,"h":0.9980,"l":0.9964,"c":0.9975},
{"i":519,"o":0.9975,"h":0.9978,"l":0.9955,"c":0.9960},
{"i":520,"o":0.9960,"h":0.9964,"l":0.9925,"c":0.9930},
{"i":521,"o":0.9930,"h":0.9934,"l":0.9900,"c":0.9905},
{"i":522,"o":0.9905,"h":0.9910,"l":0.9880,"c":0.9885},
{"i":523,"o":0.9885,"h":0.9890,"l":0.9855,"c":0.9860},
{"i":524,"o":0.9860,"h":0.9865,"l":0.9812,"c":0.9825},
{"i":525,"o":0.9825,"h":0.9845,"l":0.9820,"c":0.9840},
{"i":526,"o":0.9840,"h":0.9895,"l":0.9835,"c":0.9865},
{"i":527,"o":0.9865,"h":0.9870,"l":0.9845,"c":0.9850},
{"i":528,"o":0.9850,"h":0.9860,"l":0.9845,"c":0.9855},
{"i":529,"o":0.9855,"h":0.9858,"l":0.9825,"c":0.9830},
{"i":530,"o":0.9830,"h":0.9845,"l":0.9826,"c":0.9840},
{"i":531,"o":0.9840,"h":0.9845,"l":0.9785,"c":0.9790},
{"i":532,"o":0.9790,"h":0.9795,"l":0.9755,"c":0.9760},
{"i":533,"o":0.9760,"h":0.9765,"l":0.9740,"c":0.9745},
{"i":534,"o":0.9745,"h":0.9750,"l":0.9705,"c":0.9710},
{"i":535,"o":0.9710,"h":0.9715,"l":0.9645,"c":0.9650},
{"i":536,"o":0.9650,"h":0.9655,"l":0.9555,"c":0.9625},
{"i":537,"o":0.9625,"h":0.9665,"l":0.9620,"c":0.9660},
{"i":538,"o":0.9660,"h":0.9700,"l":0.9655,"c":0.9690},
{"i":539,"o":0.9690,"h":0.9694,"l":0.9665,"c":0.9670},
{"i":540,"o":0.9670,"h":0.9675,"l":0.9635,"c":0.9640},
{"i":541,"o":0.9640,"h":0.9645,"l":0.9620,"c":0.9625},
{"i":542,"o":0.9625,"h":0.9660,"l":0.9620,"c":0.9640},
{"i":543,"o":0.9640,"h":0.9645,"l":0.9625,"c":0.9630},
{"i":544,"o":0.9630,"h":0.9634,"l":0.9612,"c":0.9618},
{"i":545,"o":0.9618,"h":0.9665,"l":0.9582,"c":0.9588},
{"i":546,"o":0.9588,"h":0.9592,"l":0.9568,"c":0.9575},
{"i":547,"o":0.9575,"h":0.9590,"l":0.9570,"c":0.9585},
{"i":548,"o":0.9585,"h":0.9592,"l":0.9572,"c":0.9580},
{"i":549,"o":0.9580,"h":0.9588,"l":0.9555,"c":0.9560},
{"i":550,"o":0.9560,"h":0.9565,"l":0.9538,"c":0.9550},
{"i":551,"o":0.9550,"h":0.9595,"l":0.9545,"c":0.9590},
{"i":552,"o":0.9590,"h":0.9615,"l":0.9585,"c":0.9610},
{"i":553,"o":0.9610,"h":0.9706,"l":0.9605,"c":0.9700},
{"i":554,"o":0.9700,"h":0.9752,"l":0.9695,"c":0.9745},
{"i":555,"o":0.9745,"h":0.9750,"l":0.9715,"c":0.9720},
{"i":556,"o":0.9720,"h":0.9725,"l":0.9684,"c":0.9690},
{"i":557,"o":0.9690,"h":0.9705,"l":0.9661,"c":0.9700},
{"i":558,"o":0.9700,"h":0.9765,"l":0.9695,"c":0.9760},
{"i":559,"o":0.9760,"h":0.9795,"l":0.9755,"c":0.9790},
{"i":560,"o":0.9790,"h":0.9829,"l":0.9785,"c":0.9810},
{"i":561,"o":0.9810,"h":0.9814,"l":0.9795,"c":0.9800},
{"i":562,"o":0.9800,"h":0.9825,"l":0.9796,"c":0.9818},
{"i":563,"o":0.9818,"h":0.9822,"l":0.9790,"c":0.9795},
{"i":564,"o":0.9795,"h":0.9800,"l":0.9750,"c":0.9760},
{"i":565,"o":0.9760,"h":0.9795,"l":0.9755,"c":0.9790},
{"i":566,"o":0.9790,"h":0.9795,"l":0.9775,"c":0.9780},
{"i":567,"o":0.9780,"h":0.9805,"l":0.9776,"c":0.9800},
{"i":568,"o":0.9800,"h":0.9804,"l":0.9786,"c":0.9792},
{"i":569,"o":0.9792,"h":0.9796,"l":0.9750,"c":0.9770},
{"i":570,"o":0.9770,"h":0.9810,"l":0.9766,"c":0.9805},
{"i":571,"o":0.9805,"h":0.9820,"l":0.9800,"c":0.9815},
{"i":572,"o":0.9815,"h":0.9830,"l":0.9810,"c":0.9825},
{"i":573,"o":0.9825,"h":0.9846,"l":0.9820,"c":0.9835},
{"i":574,"o":0.9835,"h":0.9875,"l":0.9830,"c":0.9870},
{"i":575,"o":0.9870,"h":0.9925,"l":0.9865,"c":0.9920},
{"i":576,"o":0.9920,"h":0.9996,"l":0.9915,"c":0.9965},
{"i":577,"o":0.9965,"h":0.9982,"l":0.9960,"c":0.9975},
{"i":578,"o":0.9975,"h":0.9980,"l":0.9955,"c":0.9960},
{"i":579,"o":0.9960,"h":0.9970,"l":0.9952,"c":0.9962},
{"i":580,"o":0.9960,"h":0.9984,"l":0.9956,"c":0.9978},
{"i":581,"o":0.9978,"h":0.9982,"l":0.9945,"c":0.9950},
{"i":582,"o":0.9950,"h":0.9955,"l":0.9895,"c":0.9900},
{"i":583,"o":0.9900,"h":0.9905,"l":0.9865,"c":0.9880},
{"i":584,"o":0.9880,"h":0.9920,"l":0.9876,"c":0.9915},
{"i":585,"o":0.9915,"h":0.9929,"l":0.9910,"c":0.9925},
{"i":586,"o":0.9925,"h":0.9928,"l":0.9900,"c":0.9905},
{"i":587,"o":0.9905,"h":0.9910,"l":0.9885,"c":0.9890},
{"i":588,"o":0.9890,"h":0.9894,"l":0.9805,"c":0.9810},
{"i":589,"o":0.9810,"h":0.9815,"l":0.9795,"c":0.9800},
{"i":590,"o":0.9800,"h":0.9820,"l":0.9796,"c":0.9815},
{"i":591,"o":0.9815,"h":0.9818,"l":0.9800,"c":0.9805},
{"i":592,"o":0.9805,"h":0.9826,"l":0.9800,"c":0.9820},
{"i":593,"o":0.9820,"h":0.9824,"l":0.9755,"c":0.9760},
{"i":594,"o":0.9760,"h":0.9764,"l":0.9740,"c":0.9745},
{"i":595,"o":0.9745,"h":0.9750,"l":0.9732,"c":0.9738},
{"i":596,"o":0.9738,"h":0.9755,"l":0.9734,"c":0.9750},
{"i":597,"o":0.9750,"h":0.9754,"l":0.9720,"c":0.9725},
{"i":598,"o":0.9725,"h":0.9730,"l":0.9684,"c":0.9705},
{"i":599,"o":0.9705,"h":0.9735,"l":0.9700,"c":0.9730},
{"i":600,"o":0.9730,"h":0.9734,"l":0.9715,"c":0.9720},
{"i":601,"o":0.9720,"h":0.9745,"l":0.9716,"c":0.9740},
{"i":602,"o":0.9740,"h":0.9744,"l":0.9706,"c":0.9712},
{"i":603,"o":0.9712,"h":0.9716,"l":0.9669,"c":0.9695},
{"i":604,"o":0.9695,"h":0.9730,"l":0.9690,"c":0.9725},
{"i":605,"o":0.9725,"h":0.9750,"l":0.9720,"c":0.9745},
{"i":606,"o":0.9745,"h":0.9790,"l":0.9740,"c":0.9780},
{"i":607,"o":0.9780,"h":0.9784,"l":0.9750,"c":0.9755},
{"i":608,"o":0.9755,"h":0.9760,"l":0.9715,"c":0.9720},
{"i":609,"o":0.9720,"h":0.9738,"l":0.9716,"c":0.9732},
{"i":610,"o":0.9732,"h":0.9740,"l":0.9724,"c":0.9735},
{"i":611,"o":0.9732,"h":0.9736,"l":0.9684,"c":0.9710},
{"i":612,"o":0.9710,"h":0.9732,"l":0.9705,"c":0.9728},
{"i":613,"o":0.9728,"h":0.9732,"l":0.9698,"c":0.9705},
{"i":614,"o":0.9705,"h":0.9726,"l":0.9700,"c":0.9722},
{"i":615,"o":0.9722,"h":0.9740,"l":0.9718,"c":0.9735},
{"i":616,"o":0.9735,"h":0.9738,"l":0.9715,"c":0.9720},
{"i":617,"o":0.9720,"h":0.9724,"l":0.9633,"c":0.9680},
{"i":618,"o":0.9680,"h":0.9770,"l":0.9675,"c":0.9765},
{"i":619,"o":0.9765,"h":0.9806,"l":0.9760,"c":0.9780},
{"i":620,"o":0.9780,"h":0.9785,"l":0.9765,"c":0.9770},
{"i":621,"o":0.9770,"h":0.9790,"l":0.9766,"c":0.9785},
{"i":622,"o":0.9785,"h":0.9788,"l":0.9755,"c":0.9760},
{"i":623,"o":0.9760,"h":0.9764,"l":0.9740,"c":0.9745},
{"i":624,"o":0.9745,"h":0.9750,"l":0.9712,"c":0.9730},
{"i":625,"o":0.9730,"h":0.9745,"l":0.9725,"c":0.9740},
{"i":626,"o":0.9740,"h":0.9756,"l":0.9736,"c":0.9752},
{"i":627,"o":0.9752,"h":0.9770,"l":0.9748,"c":0.9765},
{"i":628,"o":0.9765,"h":0.9825,"l":0.9760,"c":0.9820},
{"i":629,"o":0.9820,"h":0.9845,"l":0.9815,"c":0.9840},
{"i":630,"o":0.9840,"h":0.9865,"l":0.9835,"c":0.9848},
{"i":631,"o":0.9848,"h":0.9852,"l":0.9836,"c":0.9842},
{"i":632,"o":0.9842,"h":0.9856,"l":0.9838,"c":0.9850},
{"i":633,"o":0.9850,"h":0.9866,"l":0.9844,"c":0.9860},
{"i":634,"o":0.9860,"h":0.9864,"l":0.9846,"c":0.9852},
{"i":635,"o":0.9852,"h":0.9856,"l":0.9840,"c":0.9845},
{"i":636,"o":0.9845,"h":0.9862,"l":0.9840,"c":0.9858},
{"i":637,"o":0.9858,"h":0.9861,"l":0.9846,"c":0.9850},
{"i":638,"o":0.9850,"h":0.9876,"l":0.9846,"c":0.9862},
{"i":639,"o":0.9862,"h":0.9866,"l":0.9830,"c":0.9835},
{"i":640,"o":0.9835,"h":0.9840,"l":0.9805,"c":0.9810},
{"i":641,"o":0.9810,"h":0.9814,"l":0.9772,"c":0.9778},
{"i":642,"o":0.9778,"h":0.9782,"l":0.9764,"c":0.9770},
{"i":643,"o":0.9770,"h":0.9780,"l":0.9765,"c":0.9775},
{"i":644,"o":0.9775,"h":0.9778,"l":0.9762,"c":0.9768},
{"i":645,"o":0.9768,"h":0.9786,"l":0.9764,"c":0.9782},
{"i":646,"o":0.9782,"h":0.9795,"l":0.9778,"c":0.9790},
{"i":647,"o":0.9790,"h":0.9836,"l":0.9786,"c":0.9808},
{"i":648,"o":0.9808,"h":0.9812,"l":0.9785,"c":0.9790},
{"i":649,"o":0.9790,"h":0.9805,"l":0.9786,"c":0.9800},
{"i":650,"o":0.9800,"h":0.9804,"l":0.9780,"c":0.9785},
{"i":651,"o":0.9785,"h":0.9788,"l":0.9770,"c":0.9775},
{"i":652,"o":0.9775,"h":0.9778,"l":0.9762,"c":0.9770},
{"i":653,"o":0.9770,"h":0.9775,"l":0.9707,"c":0.9765},
{"i":654,"o":0.9765,"h":0.9835,"l":0.9760,"c":0.9830},
{"i":655,"o":0.9830,"h":0.9865,"l":0.9825,"c":0.9860},
{"i":656,"o":0.9860,"h":0.9890,"l":0.9845,"c":0.9850},
{"i":657,"o":0.9850,"h":0.9854,"l":0.9836,"c":0.9840},
{"i":658,"o":0.9840,"h":0.9845,"l":0.9815,"c":0.9835},
{"i":659,"o":0.9835,"h":0.9850,"l":0.9830,"c":0.9845},
{"i":660,"o":0.9845,"h":0.9870,"l":0.9840,"c":0.9865},
{"i":661,"o":0.9865,"h":0.9885,"l":0.9860,"c":0.9880},
{"i":662,"o":0.9880,"h":0.9897,"l":0.9876,"c":0.9892},
{"i":663,"o":0.9892,"h":0.9895,"l":0.9875,"c":0.9880},
{"i":664,"o":0.9880,"h":0.9884,"l":0.9866,"c":0.9872},
{"i":665,"o":0.9872,"h":0.9876,"l":0.9855,"c":0.9860},
{"i":666,"o":0.9860,"h":0.9980,"l":0.9855,"c":0.9955},
{"i":667,"o":0.9955,"h":0.9970,"l":0.9950,"c":0.9965},
{"i":668,"o":0.9965,"h":0.9968,"l":0.9952,"c":0.9958},
{"i":669,"o":0.9958,"h":0.9975,"l":0.9954,"c":0.9970},
{"i":670,"o":0.9970,"h":0.9973,"l":0.9960,"c":0.9965},
{"i":671,"o":0.9965,"h":1.0045,"l":0.9960,"c":1.0040},
{"i":672,"o":1.0040,"h":1.0092,"l":1.0035,"c":1.0080},
{"i":673,"o":1.0080,"h":1.0085,"l":1.0070,"c":1.0075},
{"i":674,"o":1.0075,"h":1.0090,"l":1.0070,"c":1.0082},
{"i":675,"o":1.0082,"h":1.0086,"l":1.0065,"c":1.0070},
{"i":676,"o":1.0070,"h":1.0074,"l":1.0055,"c":1.0060},
{"i":677,"o":1.0060,"h":1.0064,"l":1.0045,"c":1.0050},
{"i":678,"o":1.0050,"h":1.0054,"l":0.9995,"c":1.0000},
{"i":679,"o":1.0000,"h":1.0004,"l":0.9975,"c":0.9980},
{"i":680,"o":0.9980,"h":0.9984,"l":0.9960,"c":0.9965},
{"i":681,"o":0.9965,"h":0.9980,"l":0.9960,"c":0.9975},
{"i":682,"o":0.9975,"h":0.9978,"l":0.9955,"c":0.9960},
{"i":683,"o":0.9960,"h":0.9994,"l":0.9956,"c":0.9985},
{"i":684,"o":0.9985,"h":0.9988,"l":0.9940,"c":0.9945},
{"i":685,"o":0.9945,"h":0.9985,"l":0.9940,"c":0.9960},
{"i":686,"o":0.9960,"h":0.9964,"l":0.9940,"c":0.9945},
{"i":687,"o":0.9945,"h":0.9955,"l":0.9940,"c":0.9950},
{"i":688,"o":0.9950,"h":0.9954,"l":0.9940,"c":0.9945},
{"i":689,"o":0.9945,"h":0.9964,"l":0.9940,"c":0.9948},
{"i":690,"o":0.9948,"h":0.9952,"l":0.9890,"c":0.9895},
{"i":691,"o":0.9895,"h":0.9898,"l":0.9875,"c":0.9880},
{"i":692,"o":0.9880,"h":0.9890,"l":0.9876,"c":0.9885},
{"i":693,"o":0.9885,"h":0.9900,"l":0.9880,"c":0.9895},
{"i":694,"o":0.9895,"h":0.9944,"l":0.9890,"c":0.9915},
{"i":695,"o":0.9915,"h":0.9926,"l":0.9910,"c":0.9922},
{"i":696,"o":0.9922,"h":0.9925,"l":0.9912,"c":0.9918},
{"i":697,"o":0.9918,"h":0.9922,"l":0.9866,"c":0.9880},
{"i":698,"o":0.9880,"h":0.9884,"l":0.9864,"c":0.9870},
{"i":699,"o":0.9870,"h":0.9890,"l":0.9866,"c":0.9885},
{"i":700,"o":0.9885,"h":0.9888,"l":0.9872,"c":0.9878},
{"i":701,"o":0.9878,"h":0.9900,"l":0.9874,"c":0.9895},
{"i":702,"o":0.9895,"h":0.9905,"l":0.9876,"c":0.9880},
{"i":703,"o":0.9880,"h":0.9884,"l":0.9855,"c":0.9860},
{"i":704,"o":0.9860,"h":0.9980,"l":0.9815,"c":0.9820},
{"i":705,"o":0.9820,"h":0.9835,"l":0.9815,"c":0.9830},
{"i":706,"o":0.9830,"h":0.9834,"l":0.9820,"c":0.9825},
{"i":707,"o":0.9825,"h":0.9828,"l":0.9755,"c":0.9760},
{"i":708,"o":0.9760,"h":0.9764,"l":0.9730,"c":0.9742},
{"i":709,"o":0.9742,"h":0.9760,"l":0.9738,"c":0.9755},
{"i":710,"o":0.9755,"h":0.9765,"l":0.9750,"c":0.9760},
{"i":711,"o":0.9760,"h":0.9764,"l":0.9745,"c":0.9752},
{"i":712,"o":0.9752,"h":0.9775,"l":0.9748,"c":0.9770},
{"i":713,"o":0.9770,"h":0.9785,"l":0.9760,"c":0.9765},
{"i":714,"o":0.9765,"h":0.9885,"l":0.9760,"c":0.9880},
{"i":715,"o":0.9880,"h":0.9935,"l":0.9875,"c":0.9930},
{"i":716,"o":0.9930,"h":0.9965,"l":0.9925,"c":0.9960},
{"i":717,"o":0.9960,"h":0.9964,"l":0.9930,"c":0.9935},
{"i":718,"o":0.9935,"h":0.9975,"l":0.9930,"c":0.9970},
{"i":719,"o":0.9970,"h":0.9990,"l":0.9965,"c":0.9985},
{"i":720,"o":0.9985,"h":1.0015,"l":0.9980,"c":1.0010},
{"i":721,"o":1.0010,"h":1.0032,"l":1.0005,"c":1.0025},
{"i":722,"o":1.0025,"h":1.0028,"l":1.0005,"c":1.0010},
{"i":723,"o":1.0010,"h":1.0014,"l":0.9995,"c":1.0000},
{"i":724,"o":1.0000,"h":1.0012,"l":0.9996,"c":1.0008},
{"i":725,"o":1.0008,"h":1.0010,"l":0.9968,"c":0.9995},
{"i":726,"o":0.9995,"h":1.0010,"l":0.9990,"c":1.0005},
{"i":727,"o":1.0005,"h":1.0094,"l":1.0000,"c":1.0085},
{"i":728,"o":1.0085,"h":1.0090,"l":1.0075,"c":1.0080},
{"i":729,"o":1.0080,"h":1.0084,"l":1.0055,"c":1.0060},
{"i":730,"o":1.0060,"h":1.0075,"l":1.0056,"c":1.0070},
{"i":731,"o":1.0070,"h":1.0088,"l":1.0060,"c":1.0065},
{"i":732,"o":1.0065,"h":1.0070,"l":1.0035,"c":1.0040},
{"i":733,"o":1.0040,"h":1.0045,"l":1.0015,"c":1.0020},
{"i":734,"o":1.0020,"h":1.0024,"l":1.0000,"c":1.0005},
{"i":735,"o":1.0005,"h":1.0025,"l":1.0000,"c":1.0020},
{"i":736,"o":1.0020,"h":1.0036,"l":1.0015,"c":1.0025},
{"i":737,"o":1.0025,"h":1.0030,"l":0.9939,"c":0.9965},
{"i":738,"o":0.9965,"h":1.0160,"l":0.9960,"c":1.0110},
{"i":739,"o":1.0110,"h":1.0148,"l":1.0105,"c":1.0140},
{"i":740,"o":1.0140,"h":1.0210,"l":1.0135,"c":1.0200},
{"i":741,"o":1.0200,"h":1.0205,"l":1.0165,"c":1.0170},
{"i":742,"o":1.0170,"h":1.0222,"l":1.0165,"c":1.0215},
{"i":743,"o":1.0215,"h":1.0272,"l":1.0210,"c":1.0265},
{"i":744,"o":1.0265,"h":1.0310,"l":1.0260,"c":1.0305},
{"i":745,"o":1.0305,"h":1.0362,"l":1.0300,"c":1.0345},
{"i":746,"o":1.0345,"h":1.0350,"l":1.0320,"c":1.0325},
{"i":747,"o":1.0325,"h":1.0330,"l":1.0305,"c":1.0310},
{"i":748,"o":1.0310,"h":1.0315,"l":1.0270,"c":1.0300},
{"i":749,"o":1.0300,"h":1.0324,"l":1.0296,"c":1.0318},
{"i":750,"o":1.0318,"h":1.0322,"l":1.0300,"c":1.0305},
{"i":751,"o":1.0305,"h":1.0350,"l":1.0300,"c":1.0325},
{"i":752,"o":1.0325,"h":1.0330,"l":1.0315,"c":1.0322},
{"i":753,"o":1.0322,"h":1.0326,"l":1.0305,"c":1.0310},
{"i":754,"o":1.0310,"h":1.0335,"l":1.0306,"c":1.0330},
{"i":755,"o":1.0330,"h":1.0405,"l":1.0325,"c":1.0400},
{"i":756,"o":1.0400,"h":1.0484,"l":1.0395,"c":1.0438},
{"i":757,"o":1.0438,"h":1.0442,"l":1.0375,"c":1.0380},
{"i":758,"o":1.0380,"h":1.0384,"l":1.0281,"c":1.0345},
{"i":759,"o":1.0345,"h":1.0365,"l":1.0340,"c":1.0360},
{"i":760,"o":1.0360,"h":1.0395,"l":1.0355,"c":1.0390},
{"i":761,"o":1.0390,"h":1.0437,"l":1.0385,"c":1.0420},
{"i":762,"o":1.0420,"h":1.0424,"l":1.0390,"c":1.0395},
{"i":763,"o":1.0395,"h":1.0398,"l":1.0380,"c":1.0385},
{"i":764,"o":1.0385,"h":1.0410,"l":1.0380,"c":1.0395},
{"i":765,"o":1.0395,"h":1.0398,"l":1.0372,"c":1.0378},
{"i":766,"o":1.0378,"h":1.0395,"l":1.0374,"c":1.0385},
{"i":767,"o":1.0385,"h":1.0388,"l":1.0360,"c":1.0365},
{"i":768,"o":1.0365,"h":1.0370,"l":1.0305,"c":1.0315},
{"i":769,"o":1.0315,"h":1.0360,"l":1.0310,"c":1.0355},
{"i":770,"o":1.0355,"h":1.0370,"l":1.0350,"c":1.0365},
{"i":771,"o":1.0365,"h":1.0382,"l":1.0360,"c":1.0378},
{"i":772,"o":1.0378,"h":1.0400,"l":1.0374,"c":1.0385},
{"i":773,"o":1.0385,"h":1.0412,"l":1.0360,"c":1.0380},
{"i":774,"o":1.0380,"h":1.0384,"l":1.0328,"c":1.0333},
{"i":775,"o":1.03334,"h":1.03373,"l":1.03134,"c":1.03200}
]
},
"layer": [
{
"data": {"name": "levels"},
"transform": [{"filter": "datum.grp === 'bid'"}],
"mark": {"type": "rule", "color": "#C0C0C0", "strokeWidth": 1},
"encoding": {
"y": {"field": "p", "type": "quantitative", "scale": {"domain": [0.95048, 1.08519], "nice": false, "zero": false}}
}
},
{
"data": {"name": "levels"},
"transform": [{"filter": "datum.grp !== 'bid'"}],
"mark": {"type": "text", "align": "center", "baseline": "top", "dy": 1, "font": "Liberation Sans", "fontSize": 20.5},
"encoding": {
"x": {"datum": 749.25, "type": "quantitative", "scale": {"domain": [-0.375, 935.375], "nice": false, "zero": false}},
"y": {"field": "p", "type": "quantitative", "scale": {"domain": [0.95048, 1.08519], "nice": false, "zero": false}},
"text": {"field": "name"},
"color": {"field": "grp", "type": "nominal", "scale": {"domain": ["pivot","o71","o62","o53","m1","m2","bid"], "range": ["#1E90FF","#FF8C00","#FF4500","#556B2F","#FF00FF","#C71585","#000000"]}, "legend": null}
}
},
{
"data": {"name": "bars"},
"mark": {"type": "rule", "color": "black", "strokeWidth": 1},
"encoding": {
"x": {"field": "i", "type": "quantitative", "scale": {"domain": [-0.375, 935.375], "nice": false, "zero": false},
 "axis": {"orient": "bottom", "values": [0,16,32,48,64,80,96,112,128,144,160,176,192,208,224,240,256,272,288,304,320,336,352,368,384,400,416,432,448,464,480,496,512,528,544,560,576,592,608,624,640,656,672,688,704,720,736,752,768,784,800,816,832,848,864,880,896,912,928],
  "labelExpr": "(datum.value % 32 === 0 && datum.value <= 768) ? ['23 May 2022','31 May 00:00','7 Jun 08:00','14 Jun 16:00','22 Jun 00:00','29 Jun 08:00','6 Jul 16:00','14 Jul 00:00','21 Jul 08:00','28 Jul 16:00','5 Aug 00:00','12 Aug 08:00','19 Aug 16:00','29 Aug 00:00','5 Sep 08:00','12 Sep 16:00','20 Sep 00:00','27 Sep 08:00','4 Oct 16:00','12 Oct 00:00','19 Oct 08:00','26 Oct 16:00','3 Nov 00:00','10 Nov 08:00','17 Nov 16:00'][round(datum.value/32)] : ''",
  "grid": true, "gridColor": "#C0C0C0", "gridDash": [3,3], "gridWidth": 1,
  "domain": true, "domainColor": "black", "ticks": true, "tickColor": "black", "tickSize": 4,
  "tickOpacity": {"condition": {"test": "datum.value % 32 === 0 && datum.value <= 768", "value": 1}, "value": 0},
  "labelAlign": "left", "labelBaseline": "top", "labelPadding": 3, "labelDx": 2, "labelFont": "DejaVu Sans Condensed, DejaVu Sans", "labelFontSize": 17.5, "labelColor": "black", "labelOverlap": false, "labelFlush": false, "labelBound": false, "title": null, "zindex": 0}},
"y": {"field": "l", "type": "quantitative", "scale": {"domain": [0.95048, 1.08519], "nice": false, "zero": false},
 "axis": {"orient": "right", "values": [1.08255,1.07805,1.07360,1.06910,1.06465,1.06015,1.05570,1.05120,1.04675,1.04225,1.03780,1.03330,1.02885,1.02435,1.01990,1.01540,1.01095,1.00645,1.00200,0.99750,0.99305,0.98855,0.98410,0.97960,0.97515,0.97065,0.96620,0.96170,0.95725,0.95275], "format": ".5f",
  "labelExpr": "(abs(datum.value - 1.0736) < 0.000001 || abs(datum.value - 0.98855) < 0.000001) ? '' : datum.label",
  "grid": true, "gridColor": "#C0C0C0", "gridDash": [3,3], "gridWidth": 1, "domain": true, "domainColor": "black", "domainWidth": 1, "ticks": true, "tickColor": "black", "tickSize": 4, "labelPadding": 6, "labelAlign": "left", "labelBaseline": "middle", "labelFont": "DejaVu Sans Condensed, DejaVu Sans", "labelFontSize": 17.5, "labelColor": "black", "labelOverlap": false, "labelFlush": false, "labelBound": false, "title": null, "zindex": 0}},
"y2": {"field": "h"}
}
},
{
"data": {"name": "bars"},
"mark": {"type": "bar", "size": 2, "stroke": "black", "strokeWidth": 1},
"encoding": {
"x": {"field": "i", "type": "quantitative", "scale": {"domain": [-0.375, 935.375], "nice": false, "zero": false}},
"y": {"field": "o", "type": "quantitative", "scale": {"domain": [0.95048, 1.08519], "nice": false, "zero": false}},
"y2": {"field": "c"},
"fill": {"condition": {"test": "datum.c < datum.o", "value": "black"}, "value": "white"}
}
},
{
"data": {"name": "levels"},
"transform": [{"filter": "datum.grp !== 'bid'"}],
"mark": {"type": "rule"},
"encoding": {
"y": {"field": "p", "type": "quantitative", "scale": {"domain": [0.95048, 1.08519], "nice": false, "zero": false}},
"color": {"field": "grp", "type": "nominal", "scale": {"domain": ["pivot","o71","o62","o53","m1","m2","bid"], "range": ["#1E90FF","#FF8C00","#FF4500","#556B2F","#FF00FF","#C71585","#000000"]}, "legend": null},
"strokeWidth": {"condition": {"test": "datum.grp === 'pivot'", "value": 2}, "value": 1}
}
},
{
"data": {"name": "levels"},
"mark": {"type": "rule", "strokeWidth": 22, "strokeCap": "butt", "yOffset": 6},
"encoding": {
"x": {"datum": 936, "type": "quantitative", "scale": {"domain": [-0.375, 935.375], "nice": false, "zero": false}},
"x2": {"datum": 955.75},
"y": {"field": "p", "type": "quantitative", "scale": {"domain": [0.95048, 1.08519], "nice": false, "zero": false}},
"color": {"field": "grp", "type": "nominal", "scale": {"domain": ["pivot","o71","o62","o53","m1","m2","bid"], "range": ["#1E90FF","#FF8C00","#FF4500","#556B2F","#FF00FF","#C71585","#000000"]}, "legend": null}
}
},
{
"data": {"name": "levels"},
"mark": {"type": "text", "align": "left", "baseline": "middle", "dy": 6, "color": "white", "font": "DejaVu Sans Condensed, DejaVu Sans", "fontSize": 17.5},
"encoding": {
"x": {"datum": 937, "type": "quantitative", "scale": {"domain": [-0.375, 935.375], "nice": false, "zero": false}},
"y": {"field": "p", "type": "quantitative", "scale": {"domain": [0.95048, 1.08519], "nice": false, "zero": false}},
"text": {"field": "lab"}
}
}
]
}
